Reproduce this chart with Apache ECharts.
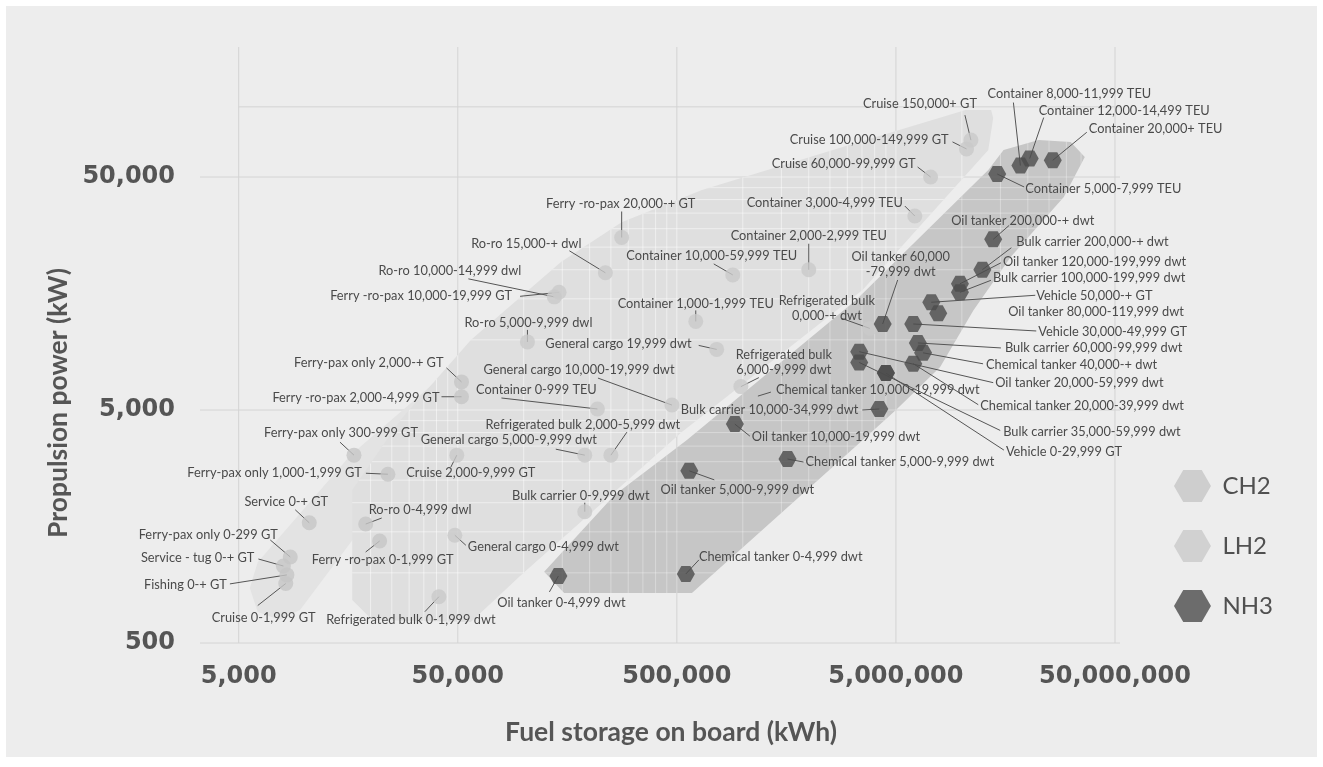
<!DOCTYPE html>
<html><head><meta charset="utf-8">
<script src="https://cdn.jsdelivr.net/npm/echarts@6/dist/echarts.min.js"></script>
<style>html,body{margin:0;background:#fff;}#c{position:absolute;left:6px;top:6px;width:1311px;height:751px;}</style>
</head><body><div id="c"></div><script>
// ---------- axes ----------
const X_MIN = 3330, X_MAX = 52700000, Y_MIN = 500, Y_MAX = 180700;
const xTicks = [5000, 50000, 500000, 5000000, 50000000];
const yTicks = [500, 5000, 50000];
const yTopLine = 100000;

// ---------- data ----------
const ch2Names = ['Ferry-pax only 0-299 GT','Ferry-pax only 300-999 GT','Ferry-pax only 1,000-1,999 GT','Ferry-pax only 2,000-+ GT','Ferry -ro-pax 0-1,999 GT','Ferry -ro-pax 2,000-4,999 GT','Service 0-+ GT','Service - tug 0-+ GT','Fishing 0-+ GT','Cruise 0-1,999 GT','Ro-ro 0-4,999 dwl'];
const ch2Fuel  = [8600, 16800, 24000, 52000, 22000, 52000, 10500, 8000, 8300, 8200, 19000];
const ch2Power = [1170, 3200, 2650, 6600, 1370, 5700, 1640, 1070, 980, 900, 1620];

const lh2Names = ['Cruise 150,000+ GT','Cruise 100,000-149,999 GT','Cruise 60,000-99,999 GT','Container 3,000-4,999 TEU','Container 2,000-2,999 TEU','Container 10,000-59,999 TEU','Ferry -ro-pax 20,000-+ GT','Ro-ro 15,000-+ dwl','Ro-ro 10,000-14,999 dwl','Ferry -ro-pax 10,000-19,999 GT','Container 1,000-1,999 TEU','Ro-ro 5,000-9,999 dwl','General cargo 19,999 dwt','General cargo 10,000-19,999 dwt','Container 0-999 TEU','Refrigerated bulk 6,000-9,999 dwt','Refrigerated bulk 2,000-5,999 dwt','General cargo 5,000-9,999 dwt','Cruise 2,000-9,999 GT','Bulk carrier 0-9,999 dwt','General cargo 0-4,999 dwt','Refrigerated bulk 0-1,999 dwt','Refrigerated bulk 0,000-+ dwt'];
const lh2Fuel  = [11000000, 10500000, 7200000, 6100000, 2000000, 900000, 280000, 236000, 138000, 145000, 610000, 104000, 760000, 475000, 217000, 980000, 250000, 190000, 49500, 190000, 48500, 41000, 3800000];
const lh2Power = [72000, 66000, 50000, 34000, 20000, 19000, 27500, 19400, 15300, 16000, 12000, 9800, 9100, 5250, 5050, 6300, 3200, 3200, 3200, 1830, 1450, 790, 11200];

const nh3Names = ['Container 8,000-11,999 TEU','Container 12,000-14,499 TEU','Container 20,000+ TEU','Container 5,000-7,999 TEU','Oil tanker 200,000-+ dwt','Bulk carrier 200,000-+ dwt','Oil tanker 120,000-199,999 dwt','Bulk carrier 100,000-199,999 dwt','Vehicle 50,000-+ GT','Oil tanker 80,000-119,999 dwt','Vehicle 30,000-49,999 GT','Oil tanker 60,000-79,999 dwt','Bulk carrier 60,000-99,999 dwt','Chemical tanker 40,000-+ dwt','Oil tanker 20,000-59,999 dwt','Chemical tanker 20,000-39,999 dwt','Bulk carrier 35,000-59,999 dwt','Vehicle 0-29,999 GT','Chemical tanker 10,000-19,999 dwt','Bulk carrier 10,000-34,999 dwt','Oil tanker 10,000-19,999 dwt','Chemical tanker 5,000-9,999 dwt','Oil tanker 5,000-9,999 dwt','Chemical tanker 0-4,999 dwt','Oil tanker 0-4,999 dwt'];
const nh3Fuel  = [18500000, 20400000, 26000000, 14500000, 13900000, 12400000, 9800000, 9800000, 7250000, 7800000, 6000000, 4350000, 6300000, 6650000, 3400000, 6000000, 3400000, 4500000, 4500000, 4200000, 920000, 1600000, 570000, 550000, 144000];
const nh3Power = [56000, 60000, 59000, 51500, 27000, 20000, 17400, 16000, 14500, 13000, 11700, 11700, 9700, 8800, 8900, 7900, 8000, 7200, 7200, 5050, 4350, 3080, 2740, 990, 970];

// region outlines in data units [kWh, kW]
const ch2Region = [[6110,679],[5620,861],[6110,1110],[16200,3200],[51600,8200],[127000,16700],[174000,17700],[193000,15100],[148000,11000],[57400,4530],[16500,1380],[9520,693],[7710,628]];
const lh2Region = [[16500,2270],[16500,764],[20400,628],[57400,615],[97300,979],[527000,4020],[3530000,16400],[13200000,65300],[13900000,89600],[13600000,97000],[10400000,97000],[2860000,67300],[651000,44000],[280000,32000],[148000,21600],[57400,9990],[27400,4530]];
const nh3Region = [[124000,1010],[153000,820],[586000,820],[3530000,3720],[5000000,5000],[7960000,7650],[11300000,13400],[16700000,22700],[29200000,41000],[36400000,61000],[31400000,70700],[22400000,72100],[15500000,65300],[13200000,53600],[3280000,14800],[556000,3720],[260000,2160]];

// ---------- label layout (pixel offsets from the point) ----------
// [textDx, textDy, align, leaderDx, leaderDy, textOverride, leaderFrom]
const labelLayout = {
 'Ferry-pax only 0-299 GT':[-82,-22,'center',-20,-17],
 'Ferry-pax only 300-999 GT':[-13,-22,'center',-14,-13],
 'Ferry-pax only 1,000-1,999 GT':[-26,-1,'right',-22,-1],
 'Ferry-pax only 2,000-+ GT':[-18,-19,'right',-15,-14],
 'Ferry -ro-pax 0-1,999 GT':[3,19,'center',-14,11],
 'Ferry -ro-pax 2,000-4,999 GT':[-22,1,'right',-20,0],
 'Service 0-+ GT':[-23,-21,'center',-14,-13],
 'Service - tug 0-+ GT':[-29,-8,'right',-25,-7],
 'Fishing 0-+ GT':[-60,10,'right',-57,9],
 'Cruise 0-1,999 GT':[-22,34,'center',-28,22],
 'Ro-ro 0-4,999 dwl':[3,-14,'left',16,-6],
 'Cruise 150,000+ GT':[6,-36,'right',-6,-25],
 'Cruise 100,000-149,999 GT':[-18,-9,'right',-14,-7],
 'Cruise 60,000-99,999 GT':[-15,-13,'right',-13,-10],
 'Container 3,000-4,999 TEU':[-12,-13,'right',-10,-10],
 'Container 2,000-2,999 TEU':[0,-34,'center',0,-26],
 'Container 10,000-59,999 TEU':[-21,-19,'center',-19,-11],
 'Ferry -ro-pax 20,000-+ GT':[-1,-34,'center',0,-26],
 'Ro-ro 15,000-+ dwl':[-24,-29,'right',-36,-22],
 'Ro-ro 10,000-14,999 dwl':[-33,-26,'right',-86,-18],
 'Ferry -ro-pax 10,000-19,999 GT':[-47,4,'right',-39,4],
 'Container 1,000-1,999 TEU':[0,-18,'center',0,-11],
 'Ro-ro 5,000-9,999 dwl':[1,-19,'center',0,-12],
 'General cargo 19,999 dwt':[-25,-6,'right',-18,-4],
 'General cargo 10,000-19,999 dwt':[-93,-35,'center',-74,-27],
 'Container 0-999 TEU':[-61,-19,'center',-96,-11],
 'Refrigerated bulk 6,000-9,999 dwt':[43,-24,'center',18,-9,'Refrigerated bulk\n6,000-9,999 dwt'],
 'Refrigerated bulk 2,000-5,999 dwt':[-28,-30,'center',16,-23],
 'General cargo 5,000-9,999 dwt':[-76,-15,'center',-29,-6],
 'Cruise 2,000-9,999 GT':[14,18,'center',-6,12],
 'Bulk carrier 0-9,999 dwt':[-4,-16,'center',0,-9],
 'General cargo 0-4,999 dwt':[13,12,'left',11,10],
 'Refrigerated bulk 0-1,999 dwt':[-28,23,'center',-14,15],
 'Refrigerated bulk 0,000-+ dwt':[-43,-20,'center',-28,-10,'Refrigerated bulk\n0,000-+ dwt'],
 'Container 8,000-11,999 TEU':[49,-72,'center',-7,-63],
 'Container 12,000-14,499 TEU':[9,-48,'left',14,-41],
 'Container 20,000+ TEU':[36,-31,'left',34,-28],
 'Container 5,000-7,999 TEU':[28,15,'left',27,13],
 'Oil tanker 200,000-+ dwt':[-42,-18,'left',16,-14],
 'Bulk carrier 200,000-+ dwt':[34,-28,'left',29,-22],
 'Oil tanker 120,000-199,999 dwt':[43,-22,'left',41,-21],
 'Bulk carrier 100,000-199,999 dwt':[33,-14,'left',31,-12],
 'Vehicle 50,000-+ GT':[105,-6,'left',104,-7],
 'Oil tanker 80,000-119,999 dwt':[70,-1,'left',null,null],
 'Vehicle 30,000-49,999 GT':[125,8,'left',123,7],
 'Oil tanker 60,000-79,999 dwt':[18,-60,'center',15,-44,'Oil tanker 60,000\n-79,999 dwt'],
 'Bulk carrier 60,000-99,999 dwt':[87,5,'left',83,5],
 'Chemical tanker 40,000-+ dwt':[63,12,'left',60,11],
 'Oil tanker 20,000-59,999 dwt':[136,31,'left',134,31],
 'Chemical tanker 20,000-39,999 dwt':[67,42,'left',65,41],
 'Bulk carrier 35,000-59,999 dwt':[144,69,'left',141,68],
 'Vehicle 0-29,999 GT':[120,79,'left',118,77],
 'Chemical tanker 10,000-19,999 dwt':[-110,17,'left',-115,19,null,[-128,23]],
 'Bulk carrier 10,000-34,999 dwt':[-21,1,'right',-17,1],
 'Oil tanker 10,000-19,999 dwt':[17,13,'left',15,12],
 'Chemical tanker 5,000-9,999 dwt':[18,3,'left',16,3],
 'Oil tanker 5,000-9,999 dwt':[48,19,'center',25,9],
 'Chemical tanker 0-4,999 dwt':[13,-17,'left',13,-14],
 'Oil tanker 0-4,999 dwt':[3,27,'center',-9,16]
};

// ---------- build ----------
const FONT = 'Lato, "Noto Sans", sans-serif';
const TICKFONT = '"DejaVu Sans", sans-serif';
const HEX = 'path://M5,0 L15,0 L20,8.66 L15,17.32 L5,17.32 L0,8.66 Z';
const toItems = (names, fx, fy) => names.map((n, i) => ({name: n, value: [fx[i], fy[i]]}));
const ch2Items = toItems(ch2Names, ch2Fuel, ch2Power);
const lh2Items = toItems(lh2Names, lh2Fuel, lh2Power);
const nh3Items = toItems(nh3Names, nh3Fuel, nh3Power);
const allItems = ch2Items.concat(lh2Items, nh3Items);

function patternValues(n0, n1) {
  const out = [];
  for (let n = n0; n <= n1; n++) {
    const b = 5 * Math.pow(10, n);
    for (let k = 1; k <= 9; k++) out.push(b * k);
  }
  return out;
}
const patX = patternValues(2, 7);
const patY = patternValues(1, 4);

function regionSeries(id, verts, fill, patColor) {
  return {
    type: 'custom', id: id, coordinateSystem: 'cartesian2d', silent: true, z: 1, clip: true,
    data: verts,
    renderItem: function (params, api) {
      if (params.dataIndex !== 0) return null;
      const pts = verts.map(v => api.coord(v));
      const children = [{type: 'polygon', shape: {points: pts}, style: {fill: fill}}];
      if (patColor) {
        const lines = [];
        patX.forEach(x => {
          const a = api.coord([x, Y_MIN]), b = api.coord([x, Y_MAX]);
          lines.push({type: 'line', shape: {x1: a[0], y1: a[1], x2: b[0], y2: b[1]}, style: {stroke: patColor, lineWidth: 1}});
        });
        patY.forEach(y => {
          const a = api.coord([X_MIN, y]), b = api.coord([X_MAX, y]);
          lines.push({type: 'line', shape: {x1: a[0], y1: a[1], x2: b[0], y2: b[1]}, style: {stroke: patColor, lineWidth: 1}});
        });
        children.push({type: 'group', clipPath: {type: 'polygon', shape: {points: pts}}, children: lines});
      }
      return {type: 'group', children: children};
    }
  };
}

const gridSeries = {
  type: 'custom', id: 'gridlines', coordinateSystem: 'cartesian2d', silent: true, z: 0, clip: false,
  data: [[X_MIN, Y_MIN]],
  renderItem: function (params, api) {
    const c = [];
    const st = {stroke: '#d4d4d4', lineWidth: 1};
    xTicks.forEach(x => {
      const a = api.coord([x, Y_MIN]), b = api.coord([x, Y_MAX]);
      c.push({type: 'line', shape: {x1: a[0], y1: a[1], x2: b[0], y2: b[1]}, style: st});
    });
    yTicks.forEach(y => {
      const a = api.coord([X_MIN, y]), b = api.coord([X_MAX, y]);
      c.push({type: 'line', shape: {x1: a[0], y1: a[1], x2: b[0], y2: b[1]}, style: st});
    });
    const a = api.coord([xTicks[0], yTopLine]), b = api.coord([X_MAX, yTopLine]);
    c.push({type: 'line', shape: {x1: a[0], y1: a[1], x2: b[0], y2: b[1]}, style: st});
    return {type: 'group', children: c};
  }
};

const leaderSeries = {
  type: 'custom', id: 'leaders', coordinateSystem: 'cartesian2d', silent: true, z: 3, clip: false,
  data: allItems.map(d => d.value),
  renderItem: function (params, api) {
    const name = allItems[params.dataIndex].name;
    const L = labelLayout[name];
    if (!L || L[3] === null) return null;
    const p = api.coord([api.value(0), api.value(1)]);
    const f = L[6] || [0, 0];
    return {type: 'line', shape: {x1: p[0] + f[0], y1: p[1] + f[1], x2: p[0] + L[3], y2: p[1] + L[4]},
            style: {stroke: '#555', lineWidth: 1}};
  }
};

const textSeries = {
  type: 'custom', id: 'labels', coordinateSystem: 'cartesian2d', silent: true, z: 5, clip: false,
  data: allItems.map(d => d.value),
  renderItem: function (params, api) {
    const name = allItems[params.dataIndex].name;
    const L = labelLayout[name];
    if (!L) return null;
    const p = api.coord([api.value(0), api.value(1)]);
    return {type: 'text', x: p[0] + L[0], y: p[1] + L[1],
      style: {text: L[5] || name, align: L[2], verticalAlign: 'middle', fill: '#4a4a4a',
              fontSize: 12.8, fontFamily: FONT, lineHeight: 15}};
  }
};

const axisLabelStyle = {fontSize: 24, fontWeight: 'bold', color: '#555', fontFamily: TICKFONT};
const fmt = v => Math.round(v).toLocaleString('en-US');

const option = {
  backgroundColor: '#ededed',
  animation: false,
  grid: {left: 194, top: 41, width: 920, height: 596},
  xAxis: {
    type: 'log', logBase: 10, min: X_MIN, max: X_MAX,
    axisLine: {show: false}, axisTick: {show: false, customValues: xTicks}, splitLine: {show: false},
    axisLabel: Object.assign({customValues: xTicks, formatter: fmt, margin: 22}, axisLabelStyle),
    name: 'Fuel storage on board (kWh)', nameLocation: 'middle', nameGap: 76,
    nameTextStyle: {fontSize: 26.5, fontWeight: 'bold', color: '#555', fontFamily: FONT, padding: [0, 0, 0, 22]}
  },
  yAxis: {
    type: 'log', logBase: 10, min: Y_MIN, max: Y_MAX,
    axisLine: {show: false}, axisTick: {show: false, customValues: yTicks}, splitLine: {show: false},
    axisLabel: Object.assign({customValues: yTicks, formatter: fmt, margin: 25}, axisLabelStyle),
    name: 'Propulsion power (kW)', nameLocation: 'middle', nameGap: 104,
    nameTextStyle: {fontSize: 26.5, fontWeight: 'bold', color: '#555', fontFamily: FONT, padding: [0, 116, 0, 0]}
  },
  legend: {
    data: [{name: 'CH2', icon: HEX}, {name: 'LH2', icon: HEX}, {name: 'NH3', icon: HEX}],
    orient: 'vertical', left: 1163, top: 459, itemWidth: 38, itemHeight: 32, itemGap: 28,
    selectedMode: false,
    textStyle: {fontSize: 24, color: '#505050', fontFamily: FONT, padding: [0, 0, 0, 6]}
  },
  series: [
    gridSeries,
    regionSeries('ch2region', ch2Region, '#e3e3e3', null),
    regionSeries('lh2region', lh2Region, '#dfdfdf', 'rgba(255,255,255,0.5)'),
    regionSeries('nh3region', nh3Region, '#c6c6c6', 'rgba(255,255,255,0.33)'),
    leaderSeries,
    {type: 'scatter', name: 'CH2', z: 4, symbol: 'circle', symbolSize: 15, itemStyle: {color: '#c5c5c5'}, data: ch2Items, silent: true},
    {type: 'scatter', name: 'LH2', z: 4, symbol: 'circle', symbolSize: 15, itemStyle: {color: '#c9c9c9'}, data: lh2Items, silent: true},
    {type: 'scatter', name: 'NH3', z: 4, symbol: HEX, symbolSize: [18, 16], itemStyle: {color: '#4b4b4b'}, data: nh3Items, silent: true},
    textSeries
  ]
};
const chart = echarts.init(document.getElementById('c'));
chart.setOption(option);
</script></body></html>
